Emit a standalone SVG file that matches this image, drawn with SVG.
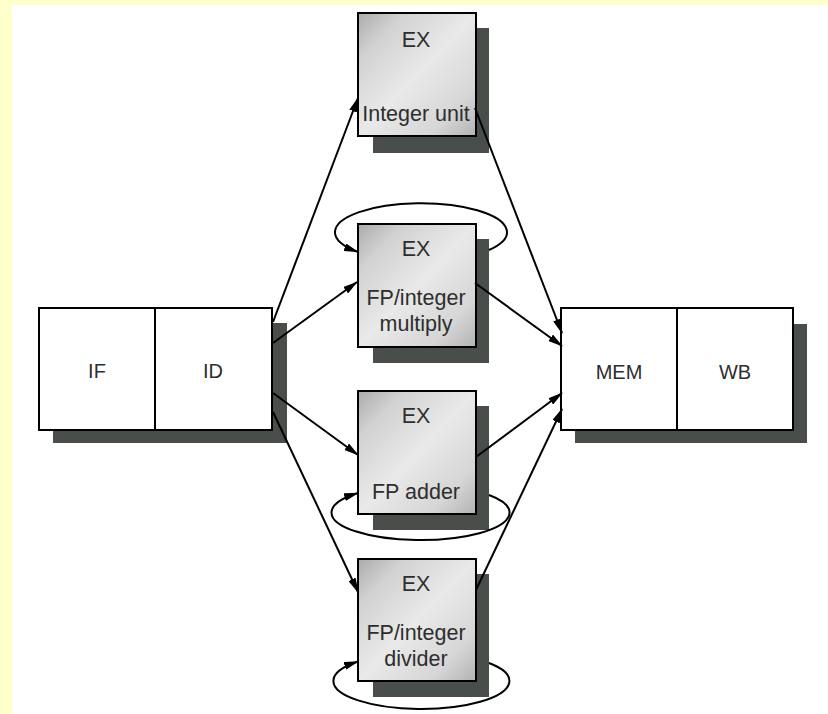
<svg xmlns="http://www.w3.org/2000/svg" width="828" height="714" viewBox="0 0 828 714">
<defs>
<linearGradient id="exfill" x1="0" y1="0" x2="1" y2="1">
<stop offset="0" stop-color="#ababab"/>
<stop offset="0.2" stop-color="#d2d2d2"/>
<stop offset="0.5" stop-color="#e9e9e9"/>
<stop offset="0.8" stop-color="#d6d6d6"/>
<stop offset="1" stop-color="#b2b2b2"/>
</linearGradient>
<marker id="arr" markerUnits="userSpaceOnUse" markerWidth="15" markerHeight="8" refX="14" refY="4" orient="auto">
<path d="M0,0 L15,4 L0,8 z" fill="#000"/>
</marker>
<style>
.shadow{fill:#4a4e4a}
.ex{fill:url(#exfill);stroke:#000;stroke-width:2}
.stage{fill:#fff;stroke:#000;stroke-width:2}
.lbl{font-family:"Liberation Sans",Arial,sans-serif;font-size:21.5px;fill:#2e2e2e;text-anchor:middle}
.slbl{font-family:"Liberation Sans",Arial,sans-serif;font-size:20px;fill:#2e2e2e;text-anchor:middle}
.con{fill:none;stroke:#000;stroke-width:2;marker-end:url(#arr)}
</style>
</defs>
<rect x="0" y="0" width="828" height="714" fill="#ffffcc"/>
<rect x="12" y="5" width="816" height="709" fill="#fff"/>

<g id="ifid">
<rect class="shadow" x="53" y="323" width="234" height="120"/>
<rect class="stage" x="39" y="308" width="233" height="122"/>
<line x1="155" y1="308" x2="155" y2="430" stroke="#000" stroke-width="2"/>
<text class="slbl" x="97" y="378">IF</text>
<text class="slbl" x="213" y="378">ID</text>
</g>

<g id="memwb">
<rect class="shadow" x="575" y="324" width="232" height="119"/>
<rect class="stage" x="561" y="308" width="232" height="122"/>
<line x1="677" y1="308" x2="677" y2="430" stroke="#000" stroke-width="2"/>
<text class="slbl" x="619" y="379">MEM</text>
<text class="slbl" x="735" y="379">WB</text>
</g>

<g id="ex-integer">
<rect class="shadow" x="373" y="28" width="116" height="125"/>
<rect class="ex" x="358" y="13" width="118" height="123"/>
<text class="lbl" x="416" y="47">EX</text>
<text class="lbl" x="416" y="121">Integer unit</text>
</g>

<g id="ex-multiply">
<rect class="shadow" x="373" y="239" width="116" height="124"/>
<rect class="ex" x="358" y="224" width="118" height="123"/>
<text class="lbl" x="416" y="256">EX</text>
<text class="lbl" x="416" y="305">FP/integer</text>
<text class="lbl" x="416" y="331">multiply</text>
</g>

<g id="ex-adder">
<rect class="shadow" x="373" y="406" width="116" height="124"/>
<rect class="ex" x="358" y="391" width="118" height="123"/>
<text class="lbl" x="416" y="423">EX</text>
<text class="lbl" x="416" y="499">FP adder</text>
</g>

<g id="ex-divider">
<rect class="shadow" x="373" y="574" width="116" height="123"/>
<rect class="ex" x="358" y="559" width="118" height="122"/>
<text class="lbl" x="416" y="591">EX</text>
<text class="lbl" x="416" y="640">FP/integer</text>
<text class="lbl" x="416" y="666">divider</text>
</g>

<g id="connectors">
<path class="con" d="M273 322 L358 98"/>
<path class="con" d="M273 343 L357 282"/>
<path class="con" d="M273 393 L358 455"/>
<path class="con" d="M273 412 L358 592"/>
<path class="con" d="M475 108 L562 333"/>
<path class="con" d="M475 283 L562 346"/>
<path class="con" d="M476 457 L562 393"/>
<path class="con" d="M476 590 L562 409"/>
<path class="con" d="M489 250 A86 29 0 1 0 358 252"/>
<path class="con" d="M489 495 A89 27.5 0 1 1 358 493"/>
<path class="con" d="M489 663 A88 28 0 1 1 358 661.5"/>
</g>
</svg>
